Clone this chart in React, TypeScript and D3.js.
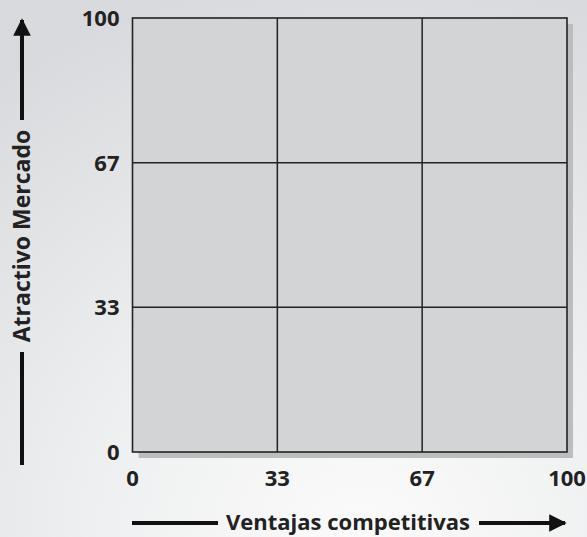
import React from "react";
import * as d3 from "d3";

const tickValues = [0, 100 / 3, 200 / 3, 100];
const tickLabels = ["0", "33", "67", "100"];
const xTitle = "Ventajas competitivas";
const yTitle = "Atractivo Mercado";

const W = 587;
const H = 537;
const M = { left: 132.5, right: 20, top: 18, bottom: 85 };
const FONT = "'Open Sans', 'DejaVu Sans', sans-serif";

export default function App() {
  const x = d3.scaleLinear().domain([0, 100]).range([M.left, W - M.right]);
  const y = d3.scaleLinear().domain([0, 100]).range([H - M.bottom, M.top]);
  const x0 = x(0), x1 = x(100), y0 = y(0), y1 = y(100);
  const inner = tickValues.slice(1, -1);
  return (
    <svg width={W} height={H} style={{ position: "absolute", left: 0, top: 0 }}>
      <defs>
        <radialGradient id="bg" cx="0.62" cy="1.0" r="1.05">
          <stop offset="0" stopColor="#fbfbfb" />
          <stop offset="0.45" stopColor="#eeeff0" />
          <stop offset="1" stopColor="#d9dadd" />
        </radialGradient>
        <marker id="ah" viewBox="0 0 10 10" refX="9" refY="5" markerWidth="4.4" markerHeight="4.4" orient="auto" markerUnits="strokeWidth">
          <path d="M0,0 L10,5 L0,10 Z" fill="#111" />
        </marker>
      </defs>
      <rect x={0} y={0} width={W} height={H} fill="url(#bg)" />
      {/* shadow */}
      <rect x={x0 + 6} y={y1 + 6} width={x1 - x0} height={y0 - y1} fill="#bcbdbf" />
      <rect x={x0} y={y1} width={x1 - x0} height={y0 - y1} fill="#d3d4d6" stroke="#222" strokeWidth={1.6} />
      {inner.map((v, i) => (
        <line key={"gx" + i} x1={x(v)} x2={x(v)} y1={y1} y2={y0} stroke="#222" strokeWidth={1.5} />
      ))}
      {inner.map((v, i) => (
        <line key={"gy" + i} x1={x0} x2={x1} y1={y(v)} y2={y(v)} stroke="#222" strokeWidth={1.5} />
      ))}
      {tickValues.map((v, i) => (
        <text key={"xt" + i} x={x(v)} y={y0 + 34} textAnchor="middle" fontFamily={FONT} fontWeight="bold" fontSize={22} fill="#222">
          {tickLabels[i]}
        </text>
      ))}
      {tickValues.map((v, i) => (
        <text key={"yt" + i} x={x0 - 13} y={y(v) + 8} textAnchor="end" fontFamily={FONT} fontWeight="bold" fontSize={22} fill="#222">
          {tickLabels[i]}
        </text>
      ))}
      {/* x axis title with arrow */}
      <line x1={132} x2={218} y1={523} y2={523} stroke="#111" strokeWidth={4} />
      <text x={348} y={530} textAnchor="middle" fontFamily={FONT} fontWeight="bold" fontSize={22} fill="#222">
        {xTitle}
      </text>
      <line x1={479} x2={565} y1={523} y2={523} stroke="#111" strokeWidth={4} markerEnd="url(#ah)" />
      {/* y axis title with arrow */}
      <line x1={22} x2={22} y1={465} y2={352} stroke="#111" strokeWidth={4} />
      <text transform="translate(30,236) rotate(-90)" textAnchor="middle" fontFamily={FONT} fontWeight="bold" fontSize={23} fill="#222">
        {yTitle}
      </text>
      <line x1={22} x2={22} y1={120} y2={20} stroke="#111" strokeWidth={4} markerEnd="url(#ah)" />
    </svg>
  );
}
